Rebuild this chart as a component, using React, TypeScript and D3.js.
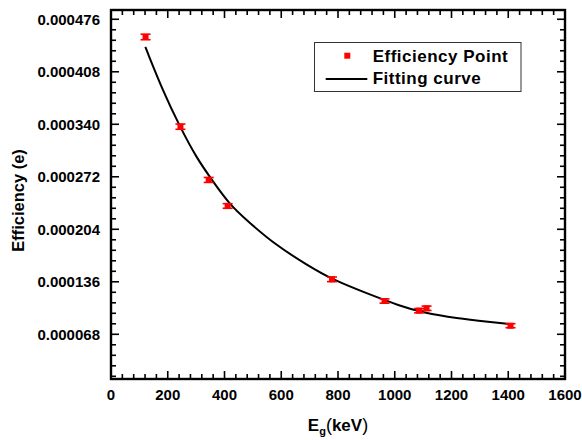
import React from "react";
import * as d3 from "d3";

const energies = [121.78, 244.7, 344.3, 411.1, 778.9, 964.1, 1085.8, 1112.1, 1408.0];
const efficiencies = [0.0004531, 0.0003369, 0.0002679, 0.0002342, 0.0001392, 0.0001111, 0.0000986, 0.0001017, 0.0000791];
const errors = [0.0000036, 0.0000034, 0.0000032, 0.000003, 0.000003, 0.0000028, 0.0000028, 0.0000028, 0.0000026];

const fitEnergies = [121, 184, 243, 302, 360, 419, 484, 572, 690, 783, 901, 1018, 1100, 1218, 1336, 1408];
const fitValues = [0.0004401, 0.0003822, 0.0003369, 0.000296, 0.0002657, 0.0002355, 0.0002139, 0.0001859, 0.0001578, 0.0001383, 0.0001211, 0.0001047, 0.000096, 0.0000887, 0.0000839, 0.0000811];

const xTicks = [0, 200, 400, 600, 800, 1000, 1200, 1400, 1600];
const yTicks = [0.000068, 0.000136, 0.000204, 0.000272, 0.00034, 0.000408, 0.000476];
const yTickLabels = ["0.000068", "0.000136", "0.000204", "0.000272", "0.000340", "0.000408", "0.000476"];

const L = 111, R = 565, T = 10, B = 379;
const FONT = "'Liberation Sans', Arial, sans-serif";

export default function App() {
  const x = d3.scaleLinear().domain([0, 1600]).range([L, R]);
  const y = d3.scaleLinear().domain([0.0000101, 0.000488]).range([B, T]);

  const xMinor = d3.range(0, 1601, 40).filter((v) => v % 200 !== 0);
  const yMinor = d3.range(1, 36).filter((k) => k % 5 !== 0).map((k) => k * 0.0000136).filter((v) => y(v) > T && y(v) < B);

  const line = d3
    .line<number>()
    .x((_, i) => x(fitEnergies[i]))
    .y((d) => y(d))
    .curve(d3.curveBasis);

  const tickStroke = 1.6;
  const maj = 8, min = 5;

  return (
    <svg width={582} height={440} style={{ position: "absolute", left: 0, top: 0, background: "#fff" }} fontFamily={FONT}>
      {/* ticks */}
      <g stroke="#000" strokeWidth={tickStroke}>
        {xTicks.map((v) => (
          <g key={"xt" + v}>
            <line x1={x(v)} x2={x(v)} y1={B} y2={B - maj} />
            <line x1={x(v)} x2={x(v)} y1={T} y2={T + maj} />
          </g>
        ))}
        {xMinor.map((v) => (
          <g key={"xm" + v}>
            <line x1={x(v)} x2={x(v)} y1={B} y2={B - min} />
            <line x1={x(v)} x2={x(v)} y1={T} y2={T + min} />
          </g>
        ))}
        {yTicks.map((v) => (
          <g key={"yt" + v}>
            <line x1={L} x2={L + maj} y1={y(v)} y2={y(v)} />
            <line x1={R} x2={R - maj} y1={y(v)} y2={y(v)} />
          </g>
        ))}
        {yMinor.map((v, i) => (
          <g key={"ym" + i}>
            <line x1={L} x2={L + min} y1={y(v)} y2={y(v)} />
            <line x1={R} x2={R - min} y1={y(v)} y2={y(v)} />
          </g>
        ))}
      </g>
      <rect x={L} y={T} width={R - L} height={B - T} fill="none" stroke="#000" strokeWidth={2.4} />

      {/* tick labels */}
      <g fontSize={15} fontWeight="bold" fill="#000">
        {xTicks.map((v) => (
          <text key={"xl" + v} x={x(v)} y={400} textAnchor="middle">
            {v}
          </text>
        ))}
        {yTicks.map((v, i) => (
          <text key={"yl" + v} x={100} y={y(v)} dy="0.36em" textAnchor="end">
            {yTickLabels[i]}
          </text>
        ))}
      </g>

      {/* axis titles */}
      <text x={24} y={200.5} transform="rotate(-90 24 200.5)" textAnchor="middle" fontSize={16.5} fontWeight="bold">
        Efficiency (e)
      </text>
      <text x={338} y={431} textAnchor="middle" fontSize={17} fontWeight="bold">
        <tspan>E</tspan>
        <tspan fontSize={11} dy={4}>g</tspan>
        <tspan dy={-4} fontWeight="normal" fontSize={18}>(</tspan>
        <tspan>keV</tspan>
        <tspan fontWeight="normal" fontSize={18}>)</tspan>
      </text>

      {/* fit curve */}
      <path d={line(fitValues) || ""} fill="none" stroke="#000" strokeWidth={2} />

      {/* data points with error bars */}
      <g stroke="#ff0000" fill="#ff0000">
        {energies.map((e, i) => {
          const cx = x(e);
          const y1 = y(efficiencies[i] + errors[i]);
          const y2 = y(efficiencies[i] - errors[i]);
          return (
            <g key={"p" + i}>
              <line x1={cx} x2={cx} y1={y1} y2={y2} strokeWidth={1.6} />
              <line x1={cx - 5} x2={cx + 5} y1={y1} y2={y1} strokeWidth={1.6} />
              <line x1={cx - 5} x2={cx + 5} y1={y2} y2={y2} strokeWidth={1.6} />
              <rect x={cx - 3} y={y(efficiencies[i]) - 3} width={6} height={6} stroke="none" />
            </g>
          );
        })}
      </g>

      {/* legend */}
      <rect x={314.5} y={42.5} width={206.5} height={49} fill="#fff" stroke="#333" strokeWidth={1} />
      <rect x={344.3} y={52.7} width={6} height={6} fill="#ff0000" />
      <line x1={325.7} x2={367.3} y1={79} y2={79} stroke="#000" strokeWidth={2} />
      <text x={372.7} y={61.7} fontSize={17} fontWeight="bold" letterSpacing={0.5}>Efficiency Point</text>
      <text x={372.7} y={84} fontSize={17} fontWeight="bold" letterSpacing={0.5}>Fitting curve</text>
    </svg>
  );
}
